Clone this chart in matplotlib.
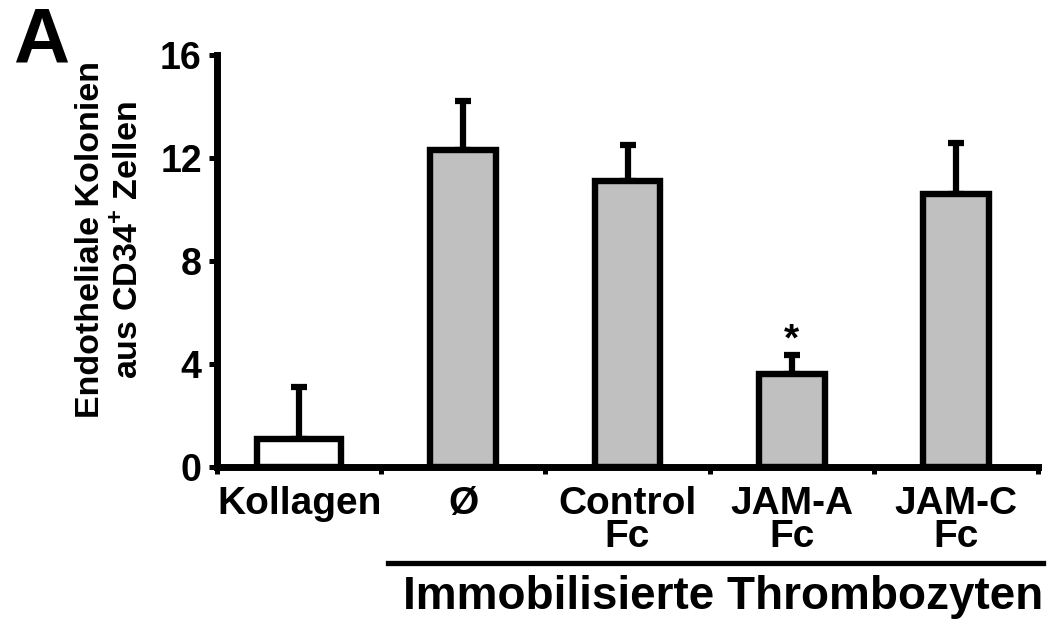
import numpy as np
import matplotlib
matplotlib.use('Agg')
import matplotlib.pyplot as plt

plt.rcParams['font.family'] = ['Liberation Sans', 'DejaVu Sans']
plt.rcParams['font.weight'] = 'bold'
plt.rcParams['mathtext.fontset'] = 'custom'
plt.rcParams['mathtext.rm'] = 'Liberation Sans:bold'
plt.rcParams['mathtext.bf'] = 'Liberation Sans:bold'

# data
categories = ['Kollagen', 'Ø', 'Control\nFc', 'JAM-A\nFc', 'JAM-C\nFc']
means = [1.1, 12.3, 11.1, 3.6, 10.6]
errors = [2.0, 1.9, 1.4, 0.75, 2.0]
yticks = [0, 4, 8, 12, 16]
ylabel = 'Endotheliale Kolonien\naus CD34$^{+}$ Zellen'
group_label = 'Immobilisierte Thrombozyten'

colors = ['white', '#c0c0c0', '#c0c0c0', '#c0c0c0', '#c0c0c0']
widths = [0.51, 0.40, 0.40, 0.40, 0.40]

fig = plt.figure(figsize=(10.5, 6.19), dpi=100)
ax = fig.add_axes([0.2067, 0.2456, 0.9886 - 0.2067, 0.9111 - 0.2456])

x = np.arange(len(categories)) + 0.5
ax.bar(x, means, width=widths, color=colors, edgecolor='black', linewidth=4.6, zorder=3)
ax.errorbar(x, means, yerr=[np.zeros(len(means)), errors], fmt='none',
            ecolor='black', elinewidth=4.5, capsize=5.8, capthick=4.5, zorder=2)

# significance star above JAM-A
ax.text(x[3], means[3] + errors[3] + 0.55, '*', ha='center', va='center', fontsize=28)

ax.set_xlim(0, len(categories))
ax.set_ylim(0, 16)
ax.set_yticks(yticks)
ax.set_yticklabels([str(t) for t in yticks], fontsize=27)
ax.tick_params(axis='y', length=6, width=3.6, pad=5)

ax.set_xticks(np.arange(len(categories) + 1))
ax.set_xticklabels([])
ax.tick_params(axis='x', which='major', length=5, width=3.6, direction='out')
ax.set_xticks(x, minor=True)
ax.set_xticklabels(categories, minor=True, fontsize=28, linespacing=0.88)
ax.tick_params(axis='x', which='minor', length=0, pad=14)

for s in ['top', 'right']:
    ax.spines[s].set_visible(False)
for s in ['left', 'bottom']:
    ax.spines[s].set_linewidth(5)

# group line and label
tr = ax.get_xaxis_transform()
ax.plot([1.04, 5.03], [-0.234, -0.234], color='black', lw=3.8, transform=tr, clip_on=False)
ax.text(5.03, -0.345, group_label, ha='right', va='baseline', fontsize=33, transform=tr)

fig.text(110 / 1050, 1 - 240 / 619, ylabel, rotation=90, ha='center', va='center',
         multialignment='center', fontsize=24.5, linespacing=1.3)
fig.text(0.012, 1 - 63 / 619, 'A', fontsize=56, ha='left', va='baseline')

fig.savefig('out.png', dpi=100)
